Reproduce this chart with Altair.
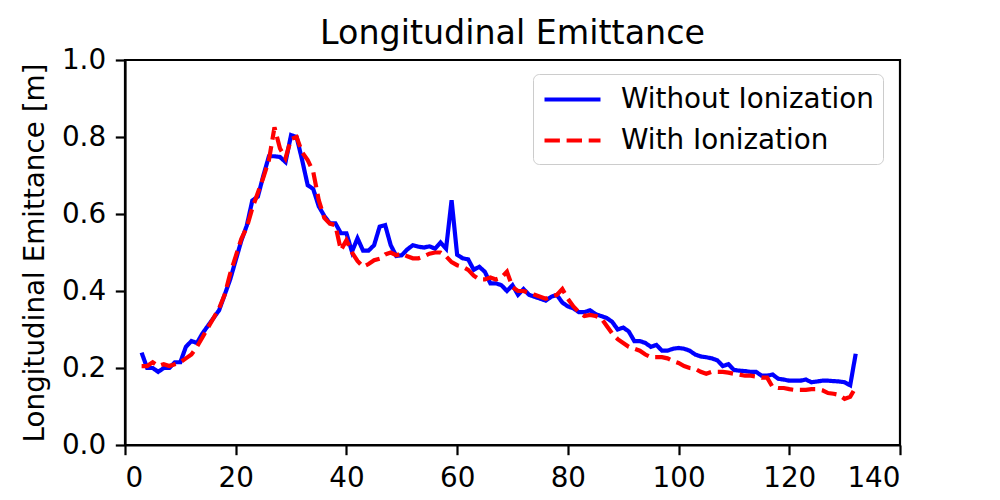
import altair as alt
import pandas as pd

x_vals = list(range(3, 133))

without_ion = [
    0.24, 0.20, 0.20, 0.19, 0.20, 0.20, 0.215, 0.215, 0.255, 0.27,
    0.265, 0.29, 0.31, 0.33, 0.35, 0.39, 0.43, 0.48, 0.53, 0.57,
    0.635, 0.645, 0.70, 0.75, 0.75, 0.748, 0.735, 0.805, 0.80, 0.74,
    0.675, 0.665, 0.62, 0.595, 0.576, 0.576, 0.55, 0.55, 0.502, 0.537,
    0.505, 0.505, 0.519, 0.567, 0.571, 0.519, 0.491, 0.493, 0.508, 0.519,
    0.515, 0.513, 0.516, 0.51, 0.526, 0.51, 0.636, 0.494, 0.485, 0.482,
    0.455, 0.463, 0.45, 0.42, 0.42, 0.415, 0.40, 0.415, 0.39, 0.405,
    0.39, 0.385, 0.38, 0.375, 0.385, 0.39, 0.37, 0.36, 0.355, 0.345,
    0.345, 0.35, 0.34, 0.335, 0.33, 0.32, 0.30, 0.305, 0.295, 0.27,
    0.27, 0.265, 0.255, 0.26, 0.245, 0.245, 0.25, 0.252, 0.25, 0.245,
    0.235, 0.23, 0.228, 0.225, 0.22, 0.205, 0.21, 0.195, 0.193, 0.192,
    0.19, 0.19, 0.18, 0.18, 0.183, 0.172, 0.17, 0.167, 0.167, 0.167,
    0.17, 0.163, 0.165, 0.167, 0.167, 0.166, 0.165, 0.163, 0.155, 0.237,
]

with_ion = [
    0.205, 0.205, 0.215, 0.205, 0.21, 0.205, 0.21, 0.215, 0.225, 0.235,
    0.255, 0.28, 0.305, 0.33, 0.355, 0.39, 0.445, 0.49, 0.535, 0.565,
    0.615, 0.655, 0.695, 0.74, 0.825, 0.77, 0.745, 0.795, 0.80, 0.76,
    0.74, 0.71, 0.636, 0.59, 0.575, 0.571, 0.506, 0.532, 0.50, 0.478,
    0.463, 0.47, 0.48, 0.484, 0.495, 0.50, 0.493, 0.497, 0.49, 0.485,
    0.485, 0.49, 0.497, 0.50, 0.50, 0.49, 0.475, 0.467, 0.463, 0.455,
    0.44, 0.43, 0.43, 0.435, 0.43, 0.435, 0.45, 0.41, 0.40, 0.40,
    0.395, 0.39, 0.385, 0.38, 0.385, 0.39, 0.405, 0.38, 0.36, 0.345,
    0.335, 0.338, 0.335, 0.33, 0.31, 0.29, 0.275, 0.265, 0.255, 0.25,
    0.245, 0.235, 0.228, 0.228, 0.228, 0.225, 0.218, 0.213, 0.205, 0.20,
    0.198, 0.19, 0.185, 0.19, 0.19, 0.19, 0.188, 0.185, 0.183, 0.18,
    0.18, 0.178, 0.175, 0.175, 0.15, 0.148, 0.148, 0.145, 0.143, 0.143,
    0.143, 0.145, 0.145, 0.142, 0.135, 0.133, 0.13, 0.12, 0.125, 0.15,
]

series_names = ["Without Ionization", "With Ionization"]
series_colors = ["#0000ff", "#ff0000"]
series_dashes = [[1, 0], [15.4, 6.7]]
x_ticks = [0, 20, 40, 60, 80, 100, 120, 140]
y_ticks = [0.0, 0.2, 0.4, 0.6, 0.8, 1.0]

rows = []
for xv, yv in zip(x_vals, without_ion):
    rows.append({"x": xv, "y": yv, "series": series_names[0]})
for xv, yv in zip(x_vals, with_ion):
    rows.append({"x": xv, "y": yv, "series": series_names[1]})
df = pd.DataFrame(rows)

FONT = "DejaVu Sans"

legend = alt.Legend(
    title=None,
    orient="none",
    legendX=408,
    legendY=14,
    symbolType="M-1,0H3",
    symbolSize=784,
    symbolStrokeWidth=4.2,
    labelFontSize=27.8,
    labelFont=FONT,
    labelColor="black",
    labelOffset=46,
    labelLimit=500,
    padding=9,
    rowPadding=10,
    strokeColor="#cccccc",
    fillColor="rgba(255,255,255,0.8)",
    cornerRadius=6,
)

chart = (
    alt.Chart(df)
    .mark_line(strokeWidth=4.2)
    .encode(
        x=alt.X(
            "x:Q",
            scale=alt.Scale(domain=[0, 140], nice=False, zero=False),
            axis=alt.Axis(values=x_ticks, title=None, format="d"),
        ),
        y=alt.Y(
            "y:Q",
            scale=alt.Scale(domain=[0, 1], nice=False),
            axis=alt.Axis(values=y_ticks, format=".1f", title="Longitudinal Emittance [m]"),
        ),
        color=alt.Color(
            "series:N",
            scale=alt.Scale(domain=series_names, range=series_colors),
            legend=legend,
        ),
        strokeDash=alt.StrokeDash(
            "series:N",
            scale=alt.Scale(domain=series_names, range=series_dashes),
            legend=legend,
        ),
    )
    .properties(
        width=775,
        height=385,
        title=alt.Title(
            "Longitudinal Emittance",
            fontSize=33.3,
            fontWeight="normal",
            font=FONT,
            color="black",
            anchor="middle",
            offset=-5,
        ),
        autosize=alt.AutoSizeParams(type="none"),
        padding={"left": 117, "top": 52, "right": 92, "bottom": 52},
    )
    .configure_view(stroke="black", strokeWidth=2.2)
    .configure_axis(
        grid=False,
        domainColor="black",
        domainWidth=2.2,
        tickColor="black",
        tickWidth=2.2,
        tickSize=9.7,
        labelPadding=9.7,
        labelFontSize=27.8,
        labelFont=FONT,
        labelColor="black",
        titleFontSize=27.8,
        titleFont=FONT,
        titleFontWeight="normal",
        titleColor="black",
        titlePadding=12,
    )
)

chart.save("out.html", embed_options={"renderer": "svg", "actions": False})
